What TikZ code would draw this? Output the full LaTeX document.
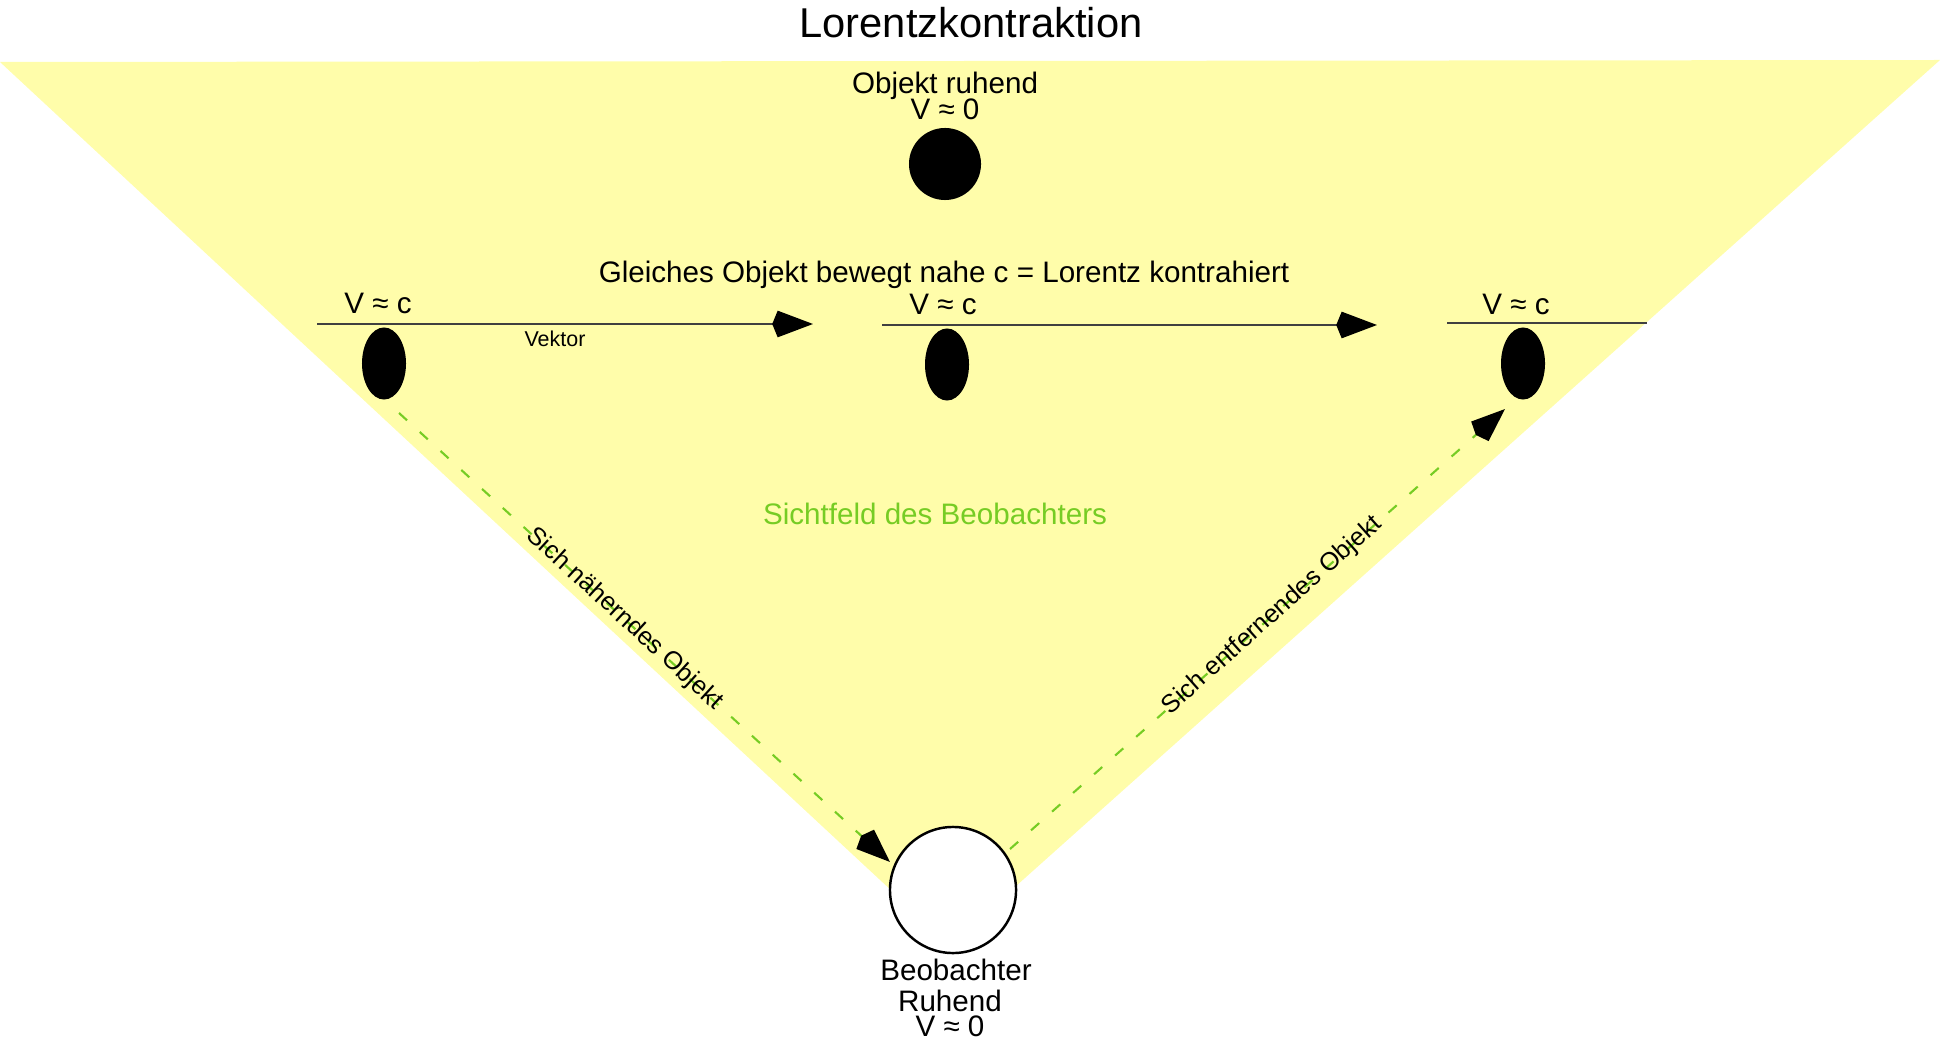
\documentclass[tikz,border=0pt]{standalone}
\usepackage{fontspec}
\setmainfont{Liberation Sans}
\usetikzlibrary{arrows.meta,shapes.geometric}
\definecolor{fieldyellow}{RGB}{255,253,170}
\definecolor{viewgreen}{RGB}{118,204,36}
\begin{document}
\begin{tikzpicture}[x=0.01cm,y=-0.01cm,
  lbl/.style={inner sep=0pt,anchor=base,font=\fontsize{8.42pt}{10pt}\selectfont},
  ttl/.style={inner sep=0pt,anchor=base,font=\fontsize{11.85pt}{14pt}\selectfont},
  smalllbl/.style={inner sep=0pt,anchor=base,font=\fontsize{6.1pt}{7pt}\selectfont},
  slopelbl/.style={inner sep=0pt,sloped,font=\fontsize{7.2pt}{9pt}\selectfont},
  body/.style={ellipse,fill=black,inner sep=0pt,minimum width=0.44cm,minimum height=0.72cm},
  restbody/.style={circle,fill=black,inner sep=0pt,minimum size=0.72cm},
  obscirc/.style={circle,draw=black,fill=white,line width=0.7pt,inner sep=0pt,minimum size=1.26cm},
  vec/.style={draw=black!75,line width=0.45pt,-{Stealth[length=10pt,width=7.4pt,inset=-1.6pt,color=black]}},
  vecplain/.style={draw=black!75,line width=0.45pt},
  sight/.style={draw=viewgreen,line width=0.6pt,dash pattern=on 3.1pt off 4.9pt,-{Stealth[length=9.5pt,width=7.2pt,inset=-1.6pt,color=black]}}
]
\useasboundingbox (0,0) rectangle (1940,1052);
% field of view
\fill[fieldyellow] (0,62) -- (1940,60) -- (950,945) -- cycle;

% title
\node[ttl] (title) at (971,38) {Lorentzkontraktion};

% object at rest
\node[lbl] (restA) at (945,94) {Objekt ruhend};
\node[lbl] (restB) at (945,120) {V ≈ 0};
\node[restbody] (rest) at (945,164) {};

% moving objects
\node[lbl] (gleich) at (944,283) {Gleiches Objekt bewegt nahe c = Lorentz kontrahiert};

\node[lbl] (vcL) at (378,314) {V ≈ c};
\node[lbl] (vcM) at (943,315) {V ≈ c};
\node[lbl] (vcR) at (1516,315) {V ≈ c};

\coordinate (vL0) at (317,324);
\coordinate (vL1) at (813,324);
\coordinate (vM0) at (882,325);
\coordinate (vM1) at (1377,325);
\coordinate (vR0) at (1447,323);
\coordinate (vR1) at (1647,323);
\draw[vec] (vL0) -- (vL1);
\draw[vec] (vM0) -- (vM1);
\draw[vecplain] (vR0) -- (vR1);
\node[smalllbl] (vektor) at (555,347) {Vektor};

\node[body] (bodyL) at (384,363.5) {};
\node[body] (bodyM) at (947,364.5) {};
\node[body] (bodyR) at (1523,363.5) {};

% field label
\node[lbl,text=viewgreen] (field) at (935,524) {Sichtfeld des Beobachters};

% observer
\node[obscirc] (obs) at (953,890) {};
\node[lbl] (obsA) at (956,980) {Beobachter};
\node[lbl] (obsB) at (950,1011) {Ruhend};
\node[lbl] (obsC) at (950,1036) {V ≈ 0};

% sight lines
\coordinate (lStart) at (399,413);
\coordinate (lTip) at (890,862);
\coordinate (rStart) at (1010,849);
\coordinate (rTip) at (1505,409);
\draw[sight] (lStart) -- node[slopelbl,pos=0.459] {Sich näherndes Objekt} (lTip);
\draw[sight] (rStart) -- node[slopelbl,pos=0.53] {Sich entfernendes Objekt} (rTip);
\end{tikzpicture}
\end{document}
